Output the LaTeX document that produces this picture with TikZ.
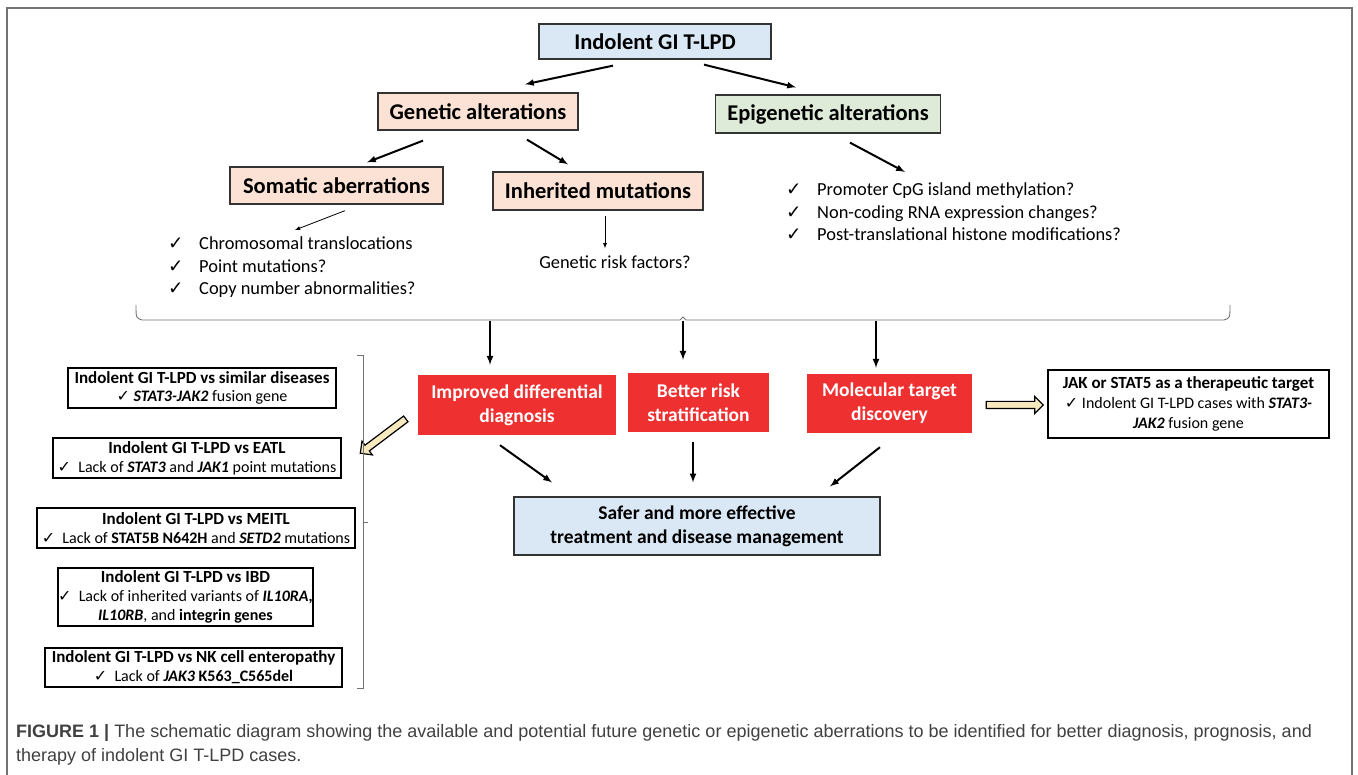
\documentclass[tikz,border=0pt]{standalone}
\usepackage{fontspec}
\setmainfont{Carlito}
\newfontfamily\capfont{Liberation Sans}
\newfontfamily\chkfont{DejaVu Sans}
\usetikzlibrary{shapes.arrows}
\definecolor{boxblue}{RGB}{218,232,245}
\definecolor{boxpeach}{RGB}{251,226,213}
\definecolor{boxgreen}{RGB}{221,235,216}
\definecolor{boxred}{RGB}{238,48,48}
\definecolor{hollow}{RGB}{247,233,190}
\definecolor{framegray}{RGB}{115,115,115}
\newcommand{\ck}{{\chkfont ✓}}
\newcommand{\ttl}[1]{{\fontsize{17}{19}\selectfont\bfseries #1}}

\begin{document}
\begin{tikzpicture}[x=1pt,y=-1pt,>=latex,
  hdr/.style={draw=black!80,line width=1.3pt,inner sep=0pt,font=\fontsize{22.5}{26}\selectfont\bfseries},
  redbox/.style={fill=boxred,text=white,inner sep=0pt,align=center,font=\fontsize{19.5}{24}\selectfont\bfseries},
  diffbox/.style={draw=black,line width=1.2pt,inner sep=0pt,align=center,font=\fontsize{16}{18.7}\selectfont},
  lst/.style={inner sep=0pt,anchor=north west,align=left,font=\fontsize{18.4}{22.5}\selectfont},
  arr/.style={->,line width=2pt},
  thin/.style={->,line width=0.8pt},
  bigarrow/.style={single arrow,draw=black,line width=1.2pt,fill=hollow,inner sep=3pt,
    single arrow head extend=5pt,minimum height=57pt}]
\useasboundingbox (0,0) rectangle (1358,775);
\draw[framegray,line width=1.5pt] (7,775) -- (7,8) -- (1352,8) -- (1352,775);

% upper tree
\node[hdr,fill=boxblue,minimum width=232pt,minimum height=35pt] (top) at (655,41.5) {Indolent GI T-LPD};
\node[hdr,fill=boxpeach,minimum width=200pt,minimum height=37pt] (gen) at (478,111.5) {Genetic alterations};
\node[hdr,fill=boxgreen,minimum width=225pt,minimum height=38pt] (epi) at (828,114) {Epigenetic alterations};
\node[hdr,fill=boxpeach,minimum width=213pt,minimum height=37pt] (som) at (336.5,185.5) {Somatic aberrations};
\node[hdr,fill=boxpeach,minimum width=210pt,minimum height=38pt] (inh) at (598,191) {Inherited mutations};

\node[lst] (somlist) at (168,237) {\makebox[31pt][l]{\ck}Chromosomal translocations\\
  \makebox[31pt][l]{\ck}Point mutations?\\
  \makebox[31pt][l]{\ck}Copy number abnormalities?};
\node[inner sep=0pt,font=\fontsize{18.4}{22}\selectfont] (risk) at (615,262) {Genetic risk factors?};
\node[lst] (epilist) at (786,183) {\makebox[31pt][l]{\ck}Promoter CpG island methylation?\\
  \makebox[31pt][l]{\ck}Non-coding RNA expression changes?\\
  \makebox[31pt][l]{\ck}Post-translational histone modifications?};

\draw[arr] ([xshift=-42pt,yshift=-6pt]top.south) -- ([xshift=47pt,yshift=8pt]gen.north);
\draw[arr] ([xshift=49pt,yshift=-5pt]top.south) -- ([xshift=-32pt,yshift=7pt]epi.north);
\draw[arr] ([xshift=-55pt,yshift=-10pt]gen.south) -- ([xshift=30.5pt,yshift=4pt]som.north);
\draw[arr] ([xshift=49pt,yshift=-9pt]gen.south) -- ([xshift=-30pt,yshift=7pt]inh.north);
\draw[arr] ([xshift=22pt,yshift=-9pt]epi.south) -- ([xshift=119pt,yshift=11pt]epilist.north west);
\draw[thin] ([xshift=8.5pt,yshift=-6pt]som.south) -- ([xshift=127pt,yshift=7pt]somlist.north west);
\draw[thin] ([xshift=7pt,yshift=-5pt]inh.south) -- ([xshift=-10pt,yshift=7pt]risk.north);

% brace
\coordinate (b1) at (490,321);
\coordinate (b2) at (683,321);
\coordinate (b3) at (876,321);
\draw[framegray,line width=0.9pt] (136,305) .. controls (136,318) .. (142,320) -- (680,320) -- (683,317)
  -- (686,320) -- (1224,320) .. controls (1230,318) .. (1230,305);

% outcomes
\node[redbox,minimum width=198pt,minimum height=60pt] (diag) at (517,405) {Improved differential\\diagnosis};
\node[redbox,minimum width=141pt,minimum height=59pt] (rsk) at (698.5,402.5) {Better risk\\stratification};
\node[redbox,minimum width=165pt,minimum height=59pt] (mol) at (889.5,403.5) {Molecular target\\discovery};
\node[draw=black!80,line width=1.2pt,fill=boxblue,inner sep=0pt,align=center,minimum width=366pt,minimum height=58pt,
  font=\fontsize{19.5}{24}\selectfont\bfseries] (safe) at (697,526) {Safer and more effective\\treatment and disease management};

\draw[arr] (b1) -- ([xshift=-27pt,yshift=10pt]diag.north);
\draw[arr] (b2) -- ([xshift=-15.5pt,yshift=13pt]rsk.north);
\draw[arr] (b3) -- ([xshift=-13.5pt,yshift=6pt]mol.north);
\draw[arr] ([xshift=-17pt,yshift=-10pt]diag.south) -- ([xshift=-145pt,yshift=14pt]safe.north);
\draw[arr] ([xshift=-5.5pt,yshift=-10pt]rsk.south) -- ([xshift=-4pt,yshift=14pt]safe.north);
\draw[arr] ([xshift=-9.5pt,yshift=-14pt]mol.south) -- ([xshift=133pt,yshift=10pt]safe.north);

% therapy target
\node[bigarrow] (arrR) at (1013,405) {};
\node[diffbox,minimum width=281pt,minimum height=68pt,font=\fontsize{16}{20}\selectfont] (jak) at (1188.5,404)
  {\ttl{JAK or STAT5 as a therapeutic target}\\
   \ck\ Indolent GI T-LPD cases with \textbf{\textit{STAT3-}}\\
   \textbf{\textit{JAK2}} fusion gene};

% differential diagnoses
\node[bigarrow,rotate=217] (arrL) at (384.5,435) {};
\draw[framegray,line width=0.9pt] (357,355) -- (363,355) -- (363,688) -- (357,688);
\draw[framegray,line width=0.9pt] (363,522) -- (368,522);
\node[diffbox,minimum width=268pt,minimum height=40pt] (d1) at (202,388)
  {\ttl{Indolent GI T-LPD vs similar diseases}\\ \ck\ \textbf{\textit{STAT3-JAK2}} fusion gene};
\node[diffbox,minimum width=288pt,minimum height=40pt] (d2) at (197,458)
  {\ttl{Indolent GI T-LPD vs EATL}\\ \ck\ \ Lack of \textbf{\textit{STAT3}} and \textbf{\textit{JAK1}} point mutations};
\node[diffbox,minimum width=318pt,minimum height=40pt] (d3) at (196,528)
  {\ttl{Indolent GI T-LPD vs MEITL}\\ \ck\ \ Lack of \textbf{STAT5B N642H} and \textbf{\textit{SETD2}} mutations};
\node[diffbox,minimum width=255pt,minimum height=58pt] (d4) at (185.5,597)
  {\ttl{Indolent GI T-LPD vs IBD}\\ \ck\ \ Lack of inherited variants of \textbf{\textit{IL10RA,}}\\
   \textbf{\textit{IL10RB}}, and \textbf{integrin genes}};
\node[diffbox,minimum width=297pt,minimum height=39pt] (d5) at (193.5,667.5)
  {\ttl{Indolent GI T-LPD vs NK cell enteropathy}\\ \ck\ \ Lack of \textbf{\textit{JAK3} K563\_C565del}};

% caption
\node[inner sep=0pt,anchor=west,align=left,text=black!75,font=\capfont\fontsize{18}{24}\selectfont] (cap) at (16,745)
  {\textbf{FIGURE 1 |} The schematic diagram showing the available and potential future genetic or epigenetic aberrations to be identified for better diagnosis, prognosis, and\\
   therapy of indolent GI T-LPD cases.};
\end{tikzpicture}
\end{document}
